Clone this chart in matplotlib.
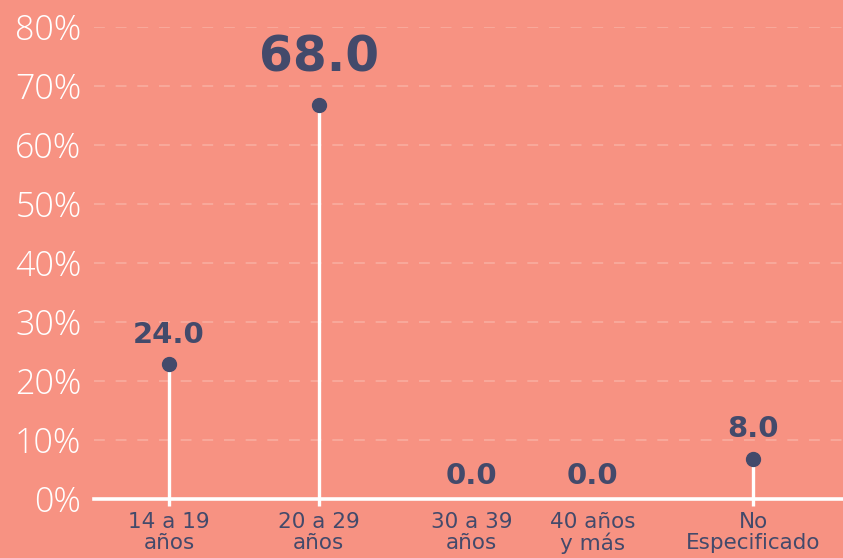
import matplotlib
matplotlib.use("Agg")
import matplotlib.pyplot as plt
import matplotlib.transforms as mtransforms

categories = ["14 a 19\naños", "20 a 29\naños", "30 a 39\naños", "40 años\ny más", "No\nEspecificado"]
values = [24.0, 68.0, 0.0, 0.0, 8.0]
y_ticks = [0, 10, 20, 30, 40, 50, 60, 70, 80]
y_tick_labels = [f"{t}%" for t in y_ticks]

# layout (horizontal slot of each category)
x_pos = [0, 1, 2.02, 2.83, 3.9]

BG = "#F79282"
NAVY = "#434A6B"
GRID = "#F9AB9D"
TICK_FONT = ["Open Sans", "DejaVu Sans"]
FONT = ["DejaVu Sans"]

fig = plt.figure(figsize=(8.43, 5.58), dpi=100, facecolor=BG)
ax = fig.add_axes([94/843, 1-499/558, 1-94/843, (499-27)/558])
ax.set_facecolor(BG)
ax.set_xlim(-0.5, 4.5)
ax.set_ylim(0, 80)

for t in y_ticks[1:]:
    ax.axhline(t, color=GRID, lw=1.3, ls=(0, (6, 6)), zorder=1)
ax.axhline(0, color="white", lw=2.6, zorder=3, clip_on=False)

r_pt = 5.0
dot_tr = mtransforms.offset_copy(ax.transData, fig=fig, x=0, y=-r_pt, units="points")
max_v = max(values)
for x, v in zip(x_pos, values):
    if v > 0:
        ax.plot([x, x], [0, v], color="white", lw=2.4, zorder=2, transform=dot_tr,
                solid_capstyle="butt", clip_on=False)
        ax.plot([x], [v], "o", color=NAVY, ms=2*r_pt, zorder=4, transform=dot_tr, clip_on=False)
    big = v == max_v
    ax.annotate(f"{v:.1f}", (x, v), xytext=(0, 19 if big else 10.5), textcoords="offset points",
                ha="center", va="baseline", color=NAVY, fontsize=35 if big else 21,
                fontweight="bold", family=FONT, clip_on=False)

ax.set_yticks(y_ticks)
ax.set_yticklabels(y_tick_labels, family=TICK_FONT, fontsize=24.5, color="white", fontweight="light")
ax.set_xticks(x_pos)
ax.set_xticklabels(categories, family=FONT, fontsize=15.5, color=NAVY, linespacing=1.08)
ax.tick_params(axis="y", length=0, pad=9)
ax.tick_params(axis="x", length=0, pad=9)
for s in ax.spines.values():
    s.set_visible(False)

fig.savefig("out.png", dpi=100, facecolor=BG)
